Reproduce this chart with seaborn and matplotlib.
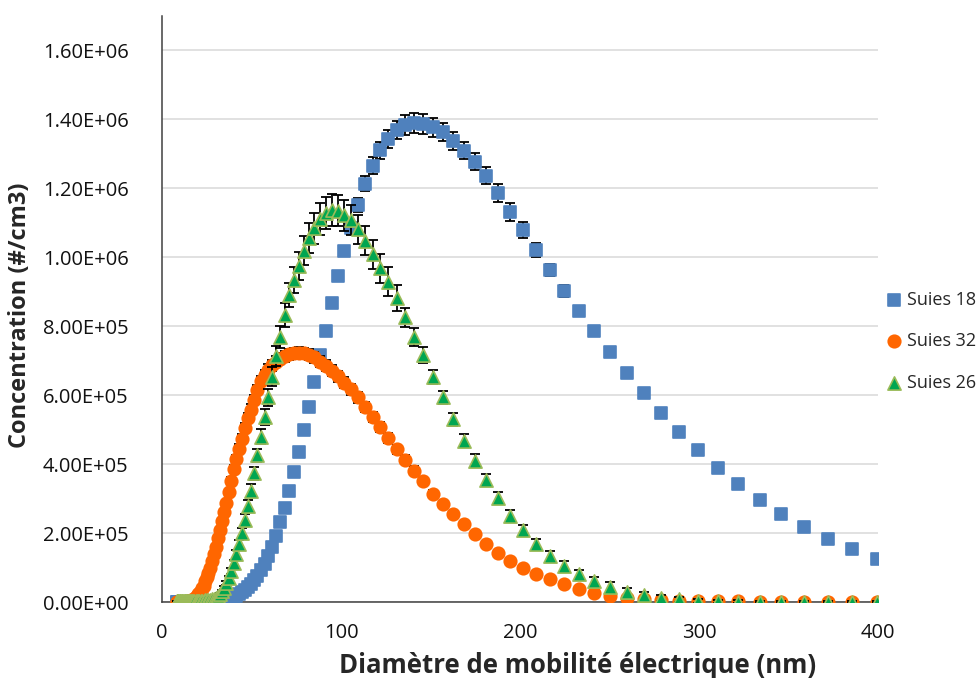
import numpy as np
import pandas as pd
import matplotlib
matplotlib.use('Agg')
import matplotlib.pyplot as plt
from matplotlib.ticker import MultipleLocator, FuncFormatter
import seaborn as sns

sns.set_style('white')
plt.rcParams['font.family'] = ['Open Sans', 'DejaVu Sans']

# diamètres (nm), canaux SMPS
diam = [8.2, 8.51, 8.82, 9.14, 9.47, 9.82, 10.2, 10.6, 10.9, 11.3,
        11.8, 12.2, 12.6, 13.1, 13.6, 14.1, 14.6, 15.1, 15.7, 16.3,
        16.8, 17.5, 18.1, 18.8, 19.5, 20.2, 20.9, 21.7, 22.5, 23.3,
        24.1, 25.0, 25.9, 26.9, 27.9, 28.9, 30.0, 31.1, 32.2, 33.4,
        34.6, 35.9, 37.2, 38.5, 40.0, 41.4, 42.9, 44.5, 46.1, 47.8,
        49.6, 51.4, 53.3, 55.2, 57.3, 59.4, 61.5, 63.8, 66.1, 68.5,
        71.0, 73.7, 76.4, 79.1, 82.0, 85.1, 88.2, 91.4, 94.7, 98.2,
        101.8, 105.5, 109.4, 113.4, 117.6, 121.9, 126.3, 131.0, 135.8, 140.7,
        145.9, 151.2, 156.8, 162.5, 168.5, 174.7, 181.1, 187.7, 194.6, 201.7,
        209.1, 216.7, 224.7, 232.9, 241.4, 250.3, 259.5, 269.0, 278.8, 289.0,
        299.6, 310.6, 322.0, 333.8, 346.0, 358.7, 371.8, 385.4, 399.5]

# concentrations en milliers de #/cm3
suies18 = [0, 0, 0, 0, 0, 0, 0, 0, 0, 0,
           0, 0, 0, 0, 0, 0, 0, 0, 1, 1,
           1, 1, 1, 1, 1, 1, 1, 1, 1, 1,
           1, 1, 1, 1, 2, 2, 2, 3, 3, 4,
           5, 6, 8, 10, 13, 17, 22, 28, 35, 43,
           53, 64, 77, 92, 109, 133, 160, 191, 231, 272,
           322, 376, 434, 499, 564, 637, 716, 786, 866, 945,
           1018, 1083, 1150, 1213, 1265, 1310, 1341, 1368, 1383, 1389,
           1387, 1376, 1363, 1337, 1308, 1277, 1236, 1186, 1131, 1078,
           1020, 962, 902, 843, 786, 725, 664, 606, 548, 493,
           440, 388, 342, 297, 255, 217, 183, 154, 125]
err18 = [0, 0, 0, 0, 0, 0, 0, 0, 0, 0,
         0, 0, 0, 0, 0, 0, 0, 0, 0, 0,
         0, 0, 0, 0, 0, 0, 0, 0, 0, 0,
         0, 0, 0, 0, 0, 0, 0, 0, 0, 0,
         1, 1, 1, 1, 1, 1, 1, 2, 2, 2,
         2, 2, 2, 3, 3, 3, 4, 4, 5, 5,
         6, 6, 7, 8, 9, 10, 10, 11, 12, 13,
         14, 16, 20, 22, 24, 25, 26, 27, 28, 29,
         29, 28, 27, 26, 25, 25, 25, 25, 25, 24,
         20, 18, 17, 15, 14, 13, 12, 11, 10, 9,
         8, 8, 7, 6, 6, 5, 5, 4, 4]

suies32 = [0, 0, 0, 0, 0, 0, 0, 0, 0, 0,
           0, 0, 1, 1, 1, 2, 2, 3, 4, 5,
           5, 7, 10, 14, 18, 22, 27, 33, 40, 48,
           60, 72, 85, 100, 118, 138, 160, 185, 210, 236,
           260, 286, 318, 350, 385, 414, 444, 474, 505, 533,
           558, 585, 615, 640, 658, 673, 686, 697, 706, 713,
           718, 721, 722, 721, 717, 709, 697, 685, 670, 654,
           636, 617, 593, 566, 537, 508, 476, 443, 412, 381,
           350, 314, 284, 255, 225, 197, 167, 143, 120, 100,
           81, 66, 51, 38, 27, 18, 13, 8, 5, 4,
           3, 2, 2, 1, 1, 1, 0, 0, 0]
err32 = [0, 0, 0, 0, 0, 0, 0, 0, 0, 0,
         0, 0, 0, 0, 0, 0, 0, 0, 0, 0,
         1, 1, 1, 1, 1, 1, 2, 2, 2, 2,
         3, 3, 4, 4, 5, 5, 6, 7, 8, 9,
         10, 10, 11, 12, 12, 13, 13, 14, 14, 15,
         15, 15, 15, 15, 16, 16, 16, 16, 16, 16,
         16, 16, 16, 16, 16, 16, 16, 16, 16, 16,
         16, 16, 15, 15, 15, 14, 14, 13, 13, 12,
         12, 11, 10, 9, 8, 7, 7, 6, 5, 5,
         4, 4, 3, 3, 2, 2, 1, 1, 1, 1,
         0, 0, 0, 0, 0, 0, 0, 0, 0]

suies26 = [3, 3, 3, 3, 3, 3, 3, 3, 3, 3,
           3, 3, 3, 3, 3, 3, 3, 3, 3, 3,
           3, 3, 3, 3, 3, 3, 3, 4, 4, 4,
           5, 5, 6, 7, 8, 10, 13, 18, 24, 32,
           42, 55, 69, 90, 112, 138, 167, 199, 238, 278,
           323, 373, 425, 479, 537, 593, 653, 713, 769, 832,
           890, 933, 974, 1018, 1055, 1083, 1110, 1127, 1136, 1135,
           1121, 1107, 1080, 1047, 1008, 968, 928, 882, 825, 769,
           716, 653, 593, 530, 468, 410, 354, 301, 250, 208,
           169, 133, 104, 81, 61, 45, 30, 20, 12, 8,
           4, 2, 1, 1, 0, 0, 0, 0, 0]
err26 = [0, 0, 0, 0, 0, 0, 0, 0, 0, 0,
         0, 0, 0, 0, 0, 0, 0, 0, 0, 0,
         0, 0, 0, 0, 0, 0, 0, 0, 0, 0,
         1, 1, 1, 1, 1, 2, 2, 3, 3, 4,
         5, 6, 7, 9, 10, 12, 14, 15, 16, 17,
         18, 19, 20, 22, 24, 26, 28, 30, 32, 34,
         36, 38, 40, 42, 44, 45, 46, 46, 46, 45,
         44, 43, 42, 42, 42, 42, 42, 37, 28, 26,
         22, 20, 19, 19, 19, 18, 18, 17, 17, 16,
         15, 14, 14, 13, 13, 12, 11, 10, 9, 8,
         6, 5, 4, 3, 3, 2, 2, 2, 2]

series = [
    ('Suies 18', suies18, err18, 's', '#4F81BD', '#4F81BD', 8.8),
    ('Suies 32', suies32, err32, 'o', '#FF6600', '#FF6600', 9),
    ('Suies 26', suies26, err26, '^', '#00A651', '#9BBB59', 9.5),
]

fig, ax = plt.subplots(figsize=(9.76, 6.78), dpi=100)
fig.subplots_adjust(left=0.166, right=0.8996, bottom=0.112, top=0.977)

for i, (name, vals, errs, mk, fc, ec, ms) in enumerate(series):
    df = pd.DataFrame({'d': diam,
                       'c': np.array(vals) * 1e3,
                       'e': np.array(errs) * 1e3})
    ax.errorbar(df['d'], df['c'], yerr=df['e'], fmt='none', ecolor='black',
                elinewidth=1.3, capsize=3.5, capthick=1.3, zorder=3 + 2 * i)
    sns.scatterplot(data=df, x='d', y='c', ax=ax, marker=mk, color=fc,
                    edgecolor=ec, linewidth=1.2, s=ms ** 2, label=name,
                    zorder=4 + 2 * i)

ax.set_xlim(0, 400)
ax.set_ylim(0, 1.7e6)
ax.set_yticks(np.arange(0, 1.61e6, 0.2e6))
ax.xaxis.set_major_locator(MultipleLocator(100))
ax.xaxis.set_minor_locator(MultipleLocator(20))
ax.yaxis.set_minor_locator(MultipleLocator(0.04e6))
ax.yaxis.set_major_formatter(FuncFormatter(lambda v, p: '{:.2E}'.format(v)))

ax.grid(axis='y', color='#D9D9D9', linewidth=1.1)
ax.set_axisbelow(True)
for s in ['top', 'right']:
    ax.spines[s].set_visible(False)
for s in ['left', 'bottom']:
    ax.spines[s].set_color('#404040')
    ax.spines[s].set_linewidth(1.1)

ax.tick_params(axis='both', which='major', direction='in', length=6,
               width=1.1, color='#404040', labelsize=14.5, labelcolor='#111111')
ax.tick_params(axis='both', which='minor', direction='in', length=4,
               width=1.0, color='#404040')
ax.tick_params(axis='y', which='major', pad=24)
ax.tick_params(axis='x', which='major', pad=15)

ax.set_xlabel('Diamètre de mobilité électrique (nm)', fontsize=18.5,
              fontweight='bold')
ax.xaxis.set_label_coords(0.58, -0.085)
ax.set_ylabel('Concentration (#/cm3)', fontsize=17, fontweight='bold')
ax.yaxis.set_label_coords(-0.182, 0.489)

ax.legend(loc='center left', bbox_to_anchor=(0.995, 0.445), frameon=False,
          fontsize=13, handletextpad=0.2, labelspacing=1.3, borderaxespad=0.2,
          handlelength=1.0)

plt.savefig('out.png', dpi=100)
